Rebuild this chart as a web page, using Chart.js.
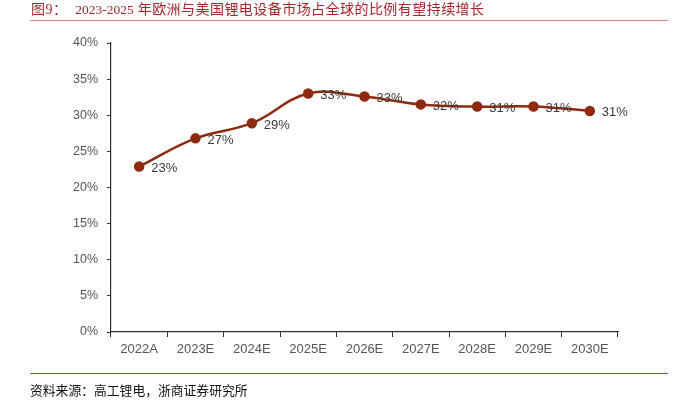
<!DOCTYPE html>
<html>
<head>
<meta charset="utf-8">
<script src="https://cdn.jsdelivr.net/npm/chart.js@4.4.0/dist/chart.umd.min.js"></script>
<style>
  body { margin: 0; background: #fff; }
  #wrap { position: relative; width: 691px; height: 410px; overflow: hidden; }
  #chartBox { position: absolute; left: 0; top: 0; width: 691px; height: 410px; }
  .title { position: absolute; left: 31px; top: -2px; font-size: 14px; letter-spacing: 0.45px; color: #a8262b;
           font-family: "Liberation Serif", "Noto Sans CJK SC", serif; white-space: nowrap; }
  .title .num { font-size: 13.5px; letter-spacing: 0; }
  .topline { position: absolute; left: 30px; top: 20px; width: 638px; height: 0; border-top: 1.5px solid #e48888; }
  .botline { position: absolute; left: 30px; top: 373px; width: 638px; height: 0; border-top: 1.5px solid #d83a34; }
  .source { position: absolute; left: 30px; top: 380px; font-size: 12.8px; color: #111;
            font-family: "Noto Sans CJK SC", serif; white-space: nowrap; }
</style>
</head>
<body>
<div id="wrap">
  <div id="chartBox"><canvas id="myChart"></canvas></div>
  <div class="title">图9：&nbsp;&nbsp;<span class="num">2023-2025</span> 年欧洲与美国锂电设备市场占全球的比例有望持续增长</div>
  <div class="topline"></div>
  <div class="botline"></div>
  <div class="source">资料来源：高工锂电，浙商证券研究所</div>
</div>
<script>
// data
const years = ["2022A","2023E","2024E","2025E","2026E","2027E","2028E","2029E","2030E"];
const share = [22.9, 26.8, 28.9, 33.0, 32.6, 31.5, 31.2, 31.2, 30.6];
const shareLabels = ["23%","27%","29%","33%","33%","32%","31%","31%","31%"];

// draws the % labels to the right of each point
const pointLabels = {
  id: 'pointLabels',
  afterDatasetsDraw(chart) {
    const ctx = chart.ctx;
    const meta = chart.getDatasetMeta(0);
    ctx.save();
    ctx.font = '13px "Liberation Sans", Arial, sans-serif';
    ctx.fillStyle = '#3a3a3a';
    ctx.textAlign = 'left';
    ctx.textBaseline = 'middle';
    meta.data.forEach((pt, i) => {
      ctx.fillText(shareLabels[i], pt.x + 12, pt.y + 2);
    });
    ctx.restore();
  }
};

var ctx = document.getElementById('myChart').getContext('2d');
var myChart = new Chart(ctx, {
  type: 'line',
  data: {
    labels: years,
    datasets: [{
      label: "share",
      data: share,
      borderColor: '#8e2a10',
      backgroundColor: '#8e2a10',
      borderWidth: 2.5,
      tension: 0.4,
      pointRadius: 4,
      pointHoverRadius: 4,
      pointBackgroundColor: '#8e2a10',
      pointBorderColor: '#8e2a10'
    }]
  },
  options: {
    responsive: true,
    maintainAspectRatio: false,
    animation: false,
    layout: { padding: { left: 0, top: 43, right: 73, bottom: 48 } },
    plugins: { legend: { display: false }, tooltip: { enabled: false } },
    scales: {
      x: {
        offset: true,
        afterFit(scale) { scale.height = 30; },
        grid: { offset: true, drawOnChartArea: false, drawTicks: true, tickLength: 5, color: '#333' },
        border: { color: '#333', width: 1.2 },
        ticks: { color: '#555', padding: 5, font: { size: 13, family: '"Liberation Sans", Arial, sans-serif' } }
      },
      y: {
        min: 0,
        max: 40,
        afterFit(scale) { scale.width = 111; },
        grid: { drawOnChartArea: false, drawTicks: true, tickLength: 4, color: '#333' },
        border: { color: '#333', width: 1.2 },
        ticks: {
          stepSize: 5,
          color: '#555',
          padding: 9,
          font: { size: 12.5, family: '"Liberation Sans", Arial, sans-serif' },
          callback: v => v + '%'
        }
      }
    }
  },
  plugins: [pointLabels]
});
</script>
</body>
</html>
